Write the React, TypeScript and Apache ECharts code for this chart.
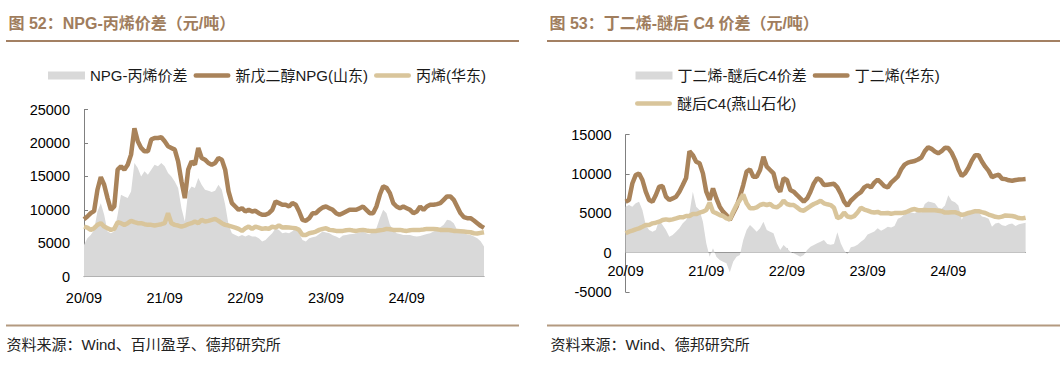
import React, { useEffect, useRef } from "react";
import * as echarts from "echarts";

// Half-monthly observation dates, 2020-09-01 .. 2025-08-16
const dates: string[] = [];
for (let k = 0; k < 120; k++) {
  const off = 8 + Math.floor(k / 2);
  const y = 2020 + Math.floor(off / 12);
  const m = (off % 12) + 1;
  dates.push(`${y}-${String(m).padStart(2, "0")}-${k % 2 ? "16" : "01"}`);
}

// Chart 52: NPG vs propylene (元/吨)
const npgSpread = [
  4750, 5750, 6250, 7000, 9750, 11000, 9250, 6750, 6500, 6750,
  9250, 12250, 12000, 11750, 12750, 17000, 16250, 15000, 15750, 15250,
  16000, 16750, 16500, 17000, 16500, 15500, 15000, 14250, 13250, 10250,
  8250, 12750, 13500, 13250, 14750, 13750, 13000, 12850, 12650, 12850,
  13750, 13000, 10750, 7750, 6500, 6250, 6000, 6250, 6000, 6250,
  6000, 6000, 5750, 5250, 5500, 6000, 6500, 7250, 7000, 6500,
  6600, 6500, 6800, 7250, 6500, 5500, 5250, 5750, 5900, 6000,
  6400, 6750, 6600, 6500, 6200, 6000, 5750, 6150, 6250, 6350,
  6400, 6500, 6600, 6750, 6500, 6350, 6800, 7250, 8750, 10000,
  9500, 7750, 7000, 6500, 6400, 6250, 6250, 6250, 6100, 6000,
  6100, 6250, 6400, 6500, 6750, 7000, 7400, 7750, 8500, 8400,
  8000, 7000, 6700, 6500, 6300, 6250, 6000, 5750, 5300, 4500,
];
const npgPrice = [
  8600, 9000, 9500, 9800, 13000, 14900, 13750, 11750, 10000, 10500,
  16000, 16500, 16000, 16750, 18250, 22200, 20250, 19250, 18750, 18750,
  20500, 20750, 20750, 20850, 20250, 19500, 19250, 19000, 17250, 14250,
  11750, 16000, 17250, 16750, 19250, 17750, 17500, 17000, 16750, 17000,
  17750, 17500, 16000, 12750, 11000, 10500, 10000, 10250, 9750, 10000,
  9750, 9850, 9500, 9250, 9250, 9500, 10000, 11250, 11000, 10750,
  10750, 10500, 11000, 10750, 9750, 8500, 8350, 8750, 9500, 9500,
  10000, 10350, 10500, 10250, 10000, 9500, 9250, 9500, 9750, 10000,
  10000, 10000, 10250, 10500, 10000, 9500, 9500, 10500, 12250, 13500,
  13300, 12500, 11000, 10500, 10250, 10500, 10250, 10000, 9500, 9750,
  10500, 10000, 10500, 10750, 10750, 10850, 11000, 11500, 12000, 12000,
  11500, 10500, 9500, 8900, 8750, 8750, 8400, 8000, 7600, 7300,
];
const propylene = [
  7500, 7350, 7000, 7250, 7750, 8000, 7500, 7250, 7000, 7150,
  8150, 8000, 7750, 8000, 8350, 8150, 8000, 8000, 7850, 7750,
  7750, 7650, 7750, 7850, 8000, 9500, 8000, 7750, 7650, 7500,
  7650, 7850, 8000, 8250, 8000, 8500, 8250, 8350, 8500, 8650,
  8350, 8000, 7750, 7650, 7500, 7350, 7150, 6850, 7250, 7500,
  7150, 7500, 7350, 7150, 7250, 7150, 7500, 7350, 7650, 7350,
  7400, 7350, 7300, 7250, 7000, 6250, 6250, 6500, 6600, 6750,
  7000, 7150, 7250, 7000, 6950, 6850, 6850, 6850, 6950, 7000,
  6900, 6850, 6950, 7000, 6900, 6850, 6850, 6850, 6950, 7000,
  7150, 7100, 7000, 7000, 7000, 6900, 6850, 6950, 7000, 7000,
  7000, 7050, 7150, 7150, 7150, 7100, 7000, 7000, 7000, 6950,
  6850, 6850, 6800, 6750, 6700, 6650, 6500, 6450, 6550, 6650,
];

// Chart 53: butadiene vs raffinate C4 (元/吨)
const c4Spread = [
  5850, 6060, 5850, 6270, 6480, 5420, 3520, 2880, 2670, 2880,
  4150, 3520, 2880, 2030, 2250, 2670, 3090, 3730, 4150, 5000,
  7750, 5850, 5420, 3940, 1190, -510, 550, -510, -930, -1140,
  -1360, -2500, -1140, -510, -300, 1610, 2880, 3520, 3090, 2670,
  3090, 3940, 2880, 2670, 2460, 1190, 340, 970, 550, 130,
  -80, -300, -510, -300, 340, 760, 970, 1190, 1400, 1610,
  1100, 1000, 1100, 2600, 1200, 300, -200, 700, 800, 1000,
  1400, 1700, 2300, 2500, 2700, 3100, 2800, 3000, 3300, 3200,
  3400, 4300, 4500, 4900, 5000, 5100, 5000, 5300, 5100, 6200,
  6500, 6400, 6300, 5700, 5600, 6000, 7300, 6600, 6400, 6000,
  4200, 5000, 5000, 5200, 5600, 5200, 4600, 4500, 4300, 3300,
  3700, 3800, 3500, 3400, 3600, 3700, 3400, 3600, 3700, 3800,
];
const butadiene = [
  6480, 6700, 8800, 9870, 10080, 9240, 7750, 6700, 6480, 7330,
  8390, 8470, 7120, 6700, 6900, 7120, 7750, 8600, 9500, 12900,
  12400, 11570, 11360, 10080, 7750, 6700, 8180, 6900, 5850, 5210,
  4790, 4150, 5000, 5850, 7120, 8600, 10300, 10590, 9660, 9660,
  10510, 12200, 10930, 10510, 10080, 8390, 7750, 9450, 9240, 7970,
  7750, 7330, 6900, 6480, 6900, 7750, 8810, 9450, 9240, 8600,
  8650, 8700, 8750, 8300, 7500, 6500, 5950, 6600, 7000, 7400,
  7700, 8300, 8550, 8300, 8900, 9300, 8900, 8450, 8300, 8900,
  9300, 9700, 10600, 11200, 11450, 11570, 11650, 11850, 12100, 12900,
  13400, 13200, 12850, 12630, 12900, 13350, 13300, 12700, 11800, 10600,
  9750, 10100, 10800, 11700, 12400, 12400, 11600, 10930, 10400, 9600,
  9800, 9900, 9400, 9350, 9200, 9150, 9240, 9300, 9320, 9360,
];
const raffinateC4 = [
  2460, 2670, 2800, 2970, 3090, 3300, 3520, 3520, 3730, 3810,
  3940, 4150, 4240, 4150, 4240, 4360, 4490, 4490, 4660, 4660,
  4910, 4910, 5080, 5210, 5420, 6360, 5210, 5000, 4790, 4660,
  4360, 4240, 5210, 6060, 6700, 7400, 6270, 5640, 5640, 5760,
  6060, 6190, 6060, 6190, 5850, 5760, 6060, 6610, 6190, 6060,
  6060, 5760, 5420, 5340, 5640, 5930, 6190, 6360, 6610, 6270,
  6150, 6050, 5700, 4400, 4550, 5100, 4600, 4500, 4650, 5100,
  5700, 5480, 5350, 5180, 5100, 5180, 5000, 5020, 5050, 4950,
  5030, 5050, 5030, 5100, 5250, 5450, 5550, 5400, 5380, 5420,
  5400, 5380, 5380, 5340, 5280, 5100, 5100, 5150, 5150, 5000,
  4790, 4900, 5050, 5150, 5280, 5280, 5150, 5050, 4850, 4720,
  4560, 4490, 4580, 4740, 4700, 4660, 4560, 4400, 4360, 4450,
];

const leftTitle = "图 52：NPG-丙烯价差（元/吨）";
const rightTitle = "图 53：丁二烯-醚后 C4 价差（元/吨）";
const leftSource = "资料来源：Wind、百川盈孚、德邦研究所";
const rightSource = "资料来源：Wind、德邦研究所";

const FONT = '"Liberation Sans", Arial, "Noto Sans CJK SC", sans-serif';
const AXIS = "#808080";
const GRAY = "#d9d9d9";
const BROWN = "#a9835a";
const BEIGE = "#d9c59b";
const TITLE = "#a07d5d";

const rectIcon = "path://M0,0H35V7.5H0Z";
const lineIcon = "path://M2.5,0H37.5A2.5,2.5,0,0,1,37.5,5H2.5A2.5,2.5,0,0,1,2.5,0Z";

const yearTick = (i: number) => i % 24 === 0;
const fmtDate = (v: string) => `${v.slice(2, 4)}/${v.slice(5, 7)}`;

function xAxis(gridIndex: number, margin: number) {
  return {
    type: "category",
    gridIndex,
    data: dates,
    boundaryGap: false,
    axisLine: { onZero: true, lineStyle: { color: AXIS, width: 1 } },
    axisTick: { inside: true, length: 4, interval: yearTick, lineStyle: { color: AXIS } },
    axisLabel: { interval: yearTick, formatter: fmtDate, margin, fontSize: 14.5, color: "#000", fontFamily: FONT },
    splitLine: { show: false },
  };
}
function yAxis(gridIndex: number, min: number, max: number) {
  return {
    type: "value",
    gridIndex,
    min,
    max,
    interval: 5000,
    axisLine: { show: true, onZero: false, lineStyle: { color: AXIS, width: 1 } },
    axisTick: { show: true, inside: true, length: 4, lineStyle: { color: AXIS } },
    axisLabel: { margin: 14, fontSize: 14.5, color: "#000", fontFamily: FONT, formatter: (v: number) => String(v) },
    splitLine: { show: false },
  };
}
function area(name: string, data: number[], idx: number) {
  return {
    name, type: "line", xAxisIndex: idx, yAxisIndex: idx, data, color: GRAY,
    symbol: "none", showSymbol: false, lineStyle: { width: 0 },
    areaStyle: { color: GRAY, opacity: 1 }, z: 1,
  };
}
function line(name: string, data: number[], idx: number, color: string, z: number) {
  return {
    name, type: "line", xAxisIndex: idx, yAxisIndex: idx, data, color,
    symbol: "none", showSymbol: false, lineStyle: { width: 4.5, color }, z,
  };
}
function legend(items: { name: string; icon: string }[], left: number, top: number) {
  return {
    data: items, left, top, padding: 0, itemGap: 6, itemWidth: 37, itemHeight: 8,
    selectedMode: false, itemStyle: { borderWidth: 0 },
    textStyle: { fontSize: 15, color: "#1a1a1a", fontFamily: FONT },
  };
}

export default function App() {
  const ref = useRef<HTMLDivElement>(null);
  useEffect(() => {
    if (!ref.current) return;
    const chart = echarts.init(ref.current, undefined, { renderer: "svg" });
    chart.setOption({
      animation: false,
      grid: [
        { left: 84, top: 109.5, width: 400, height: 167.2 },
        { left: 625.6, top: 134.7, width: 400, height: 157.3 },
      ],
      xAxis: [xAxis(0, 14), xAxis(1, -28.5)],
      yAxis: [yAxis(0, 0, 25000), yAxis(1, -5000, 15000)],
      legend: [
        legend([
          { name: "NPG-丙烯价差", icon: rectIcon },
          { name: "新戊二醇NPG(山东)", icon: lineIcon },
          { name: "丙烯(华东)", icon: lineIcon },
        ], 48, 68),
        legend([
          { name: "丁二烯-醚后C4价差", icon: rectIcon },
          { name: "丁二烯(华东)", icon: lineIcon },
        ], 635.5, 68),
        legend([{ name: "醚后C4(燕山石化)", icon: lineIcon }], 635, 96),
      ],
      series: [
        area("NPG-丙烯价差", npgSpread, 0),
        line("新戊二醇NPG(山东)", npgPrice, 0, BROWN, 2),
        line("丙烯(华东)", propylene, 0, BEIGE, 3),
        area("丁二烯-醚后C4价差", c4Spread, 1),
        line("丁二烯(华东)", butadiene, 1, BROWN, 2),
        line("醚后C4(燕山石化)", raffinateC4, 1, BEIGE, 3),
      ],
      graphic: [
        { type: "text", x: 8.5, y: 23, style: { text: leftTitle, fontSize: 16, fontWeight: "bold", fontFamily: FONT, fill: TITLE, verticalAlign: "middle" } },
        { type: "text", x: 549.5, y: 23, style: { text: rightTitle, fontSize: 16, fontWeight: "bold", fontFamily: FONT, fill: TITLE, verticalAlign: "middle" } },
        { type: "line", shape: { x1: 6, y1: 41, x2: 519, y2: 41 }, style: { stroke: "#a38063", lineWidth: 2 } },
        { type: "line", shape: { x1: 547, y1: 41, x2: 1060, y2: 41 }, style: { stroke: "#a38063", lineWidth: 2 } },
        { type: "line", shape: { x1: 6, y1: 325.5, x2: 519, y2: 325.5 }, style: { stroke: "#b39a80", lineWidth: 2 } },
        { type: "line", shape: { x1: 547, y1: 325.5, x2: 1060, y2: 325.5 }, style: { stroke: "#b39a80", lineWidth: 2 } },
        { type: "text", x: 6.5, y: 344.5, style: { text: leftSource, fontSize: 15, fontFamily: FONT, fill: "#222", verticalAlign: "middle" } },
        { type: "text", x: 550.5, y: 344.5, style: { text: rightSource, fontSize: 15, fontFamily: FONT, fill: "#222", verticalAlign: "middle" } },
      ],
    });
    return () => chart.dispose();
  }, []);
  return <div ref={ref} style={{ position: "fixed", left: 0, top: 0, width: 1063, height: 366, background: "#fff" }} />;
}
